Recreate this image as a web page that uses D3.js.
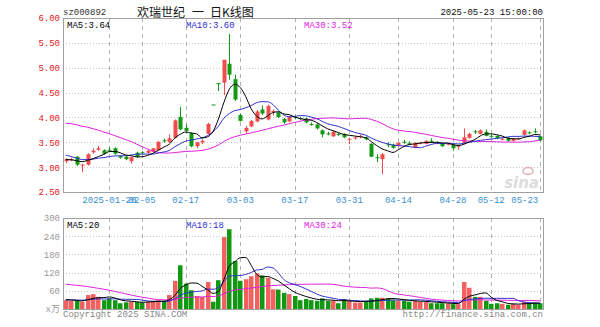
<!DOCTYPE html>
<html><head><meta charset="utf-8">
<script src="https://cdn.jsdelivr.net/npm/d3@7"></script>
<style>
body{margin:0;background:#fff}
svg{display:block}
text{font-family:"Liberation Mono","DejaVu Sans Mono",monospace;font-size:9px}
</style>
</head><body><svg id="c" width="600" height="327"></svg>
<script>
const dates = ["01-08","01-09","01-10","01-13","01-14","01-15","01-16","01-17","01-20","01-21","01-22","01-23","01-24","01-27",
"02-05","02-06","02-07","02-10","02-11","02-12","02-13","02-14","02-17","02-18","02-19","02-20","02-21","02-24","02-25","02-26","02-27","02-28",
"03-03","03-04","03-05","03-06","03-07","03-10","03-11","03-12","03-13","03-14","03-17","03-18","03-19","03-20","03-21","03-24","03-25","03-26","03-27","03-28","03-31",
"04-01","04-02","04-03","04-07","04-08","04-09","04-10","04-11","04-14","04-15","04-16","04-17","04-18","04-21","04-22","04-23","04-24","04-25","04-28","04-29","04-30",
"05-06","05-07","05-08","05-09","05-12","05-13","05-14","05-15","05-16","05-19","05-20","05-21","05-22","05-23"];

const open  = [3.12,3.15,3.21,3.03,3.05,3.30,3.35,3.34,3.35,3.38,3.22,3.21,3.12,3.29,3.30,3.29,3.31,3.34,3.54,3.51,3.59,4.01,3.79,3.68,3.42,3.50,3.67,4.26,4.69,4.70,
               5.08,4.77,4.05,3.72,3.82,3.92,4.16,3.96,4.11,4.10,3.97,3.92,4.01,3.99,3.98,3.87,3.86,3.74,3.68,3.62,3.67,3.67,3.55,3.58,3.62,3.60,3.47,3.20,3.16,
               3.46,3.45,3.43,3.51,3.48,3.39,3.48,3.47,3.53,3.50,3.47,3.46,3.45,3.41,3.49,3.59,3.72,3.67,3.71,3.63,3.63,3.56,3.59,3.53,3.57,3.65,3.70,3.72,3.62];
const high  = [3.18,3.19,3.22,3.07,3.28,3.38,3.43,3.36,3.40,3.40,3.24,3.22,3.21,3.31,3.32,3.35,3.39,3.52,3.57,3.66,3.96,4.21,3.86,3.70,3.51,3.56,3.89,4.26,4.69,5.16,
               5.68,4.86,4.08,3.83,3.95,4.15,4.24,4.26,4.16,4.12,3.99,4.03,4.04,4.01,4.00,3.90,3.88,3.76,3.71,3.73,3.69,3.68,3.59,3.62,3.66,3.62,3.48,3.26,3.28,
               3.50,3.47,3.50,3.55,3.52,3.50,3.51,3.54,3.58,3.52,3.48,3.48,3.46,3.45,3.78,3.69,3.75,3.76,3.76,3.66,3.64,3.59,3.60,3.58,3.60,3.76,3.72,3.78,3.64];
const low   = [3.08,3.12,3.02,2.90,3.03,3.27,3.33,3.25,3.30,3.25,3.17,3.14,3.07,3.19,3.26,3.27,3.30,3.33,3.49,3.49,3.58,3.74,3.70,3.40,3.38,3.46,3.66,4.26,4.53,4.45,
               4.76,4.33,3.92,3.68,3.80,3.90,4.05,3.94,4.04,3.99,3.87,3.90,3.96,3.95,3.88,3.83,3.76,3.60,3.64,3.61,3.63,3.58,3.46,3.55,3.58,3.54,3.20,3.10,2.86,
               3.40,3.37,3.41,3.47,3.44,3.38,3.46,3.46,3.49,3.46,3.41,3.44,3.33,3.35,3.47,3.57,3.67,3.66,3.62,3.59,3.56,3.54,3.51,3.52,3.55,3.64,3.66,3.68,3.52];
const close = [3.16,3.16,3.05,3.05,3.26,3.33,3.38,3.27,3.33,3.27,3.19,3.16,3.20,3.21,3.28,3.33,3.38,3.51,3.52,3.58,3.94,3.76,3.73,3.42,3.50,3.53,3.87,4.26,4.69,5.16,
               4.86,4.36,3.93,3.79,3.93,4.12,4.08,4.23,4.13,4.01,3.90,4.01,3.99,3.97,3.90,3.85,3.78,3.66,3.67,3.71,3.65,3.60,3.57,3.60,3.63,3.56,3.21,3.18,3.26,
               3.44,3.39,3.49,3.50,3.46,3.49,3.49,3.53,3.51,3.48,3.42,3.47,3.38,3.43,3.60,3.67,3.70,3.74,3.63,3.61,3.58,3.57,3.53,3.57,3.58,3.74,3.69,3.70,3.54];
const volume = [29,27,27,24,46,49,40,29,35,29,19,22,24,24,21,24,27,29,27,46,93,144,84,62,43,40,89,24,95,237,
                263,158,93,98,108,117,111,103,65,64,53,49,43,29,33,29,27,35,27,27,19,33,27,21,21,24,35,37,37,
                35,29,27,27,24,27,24,24,19,19,19,19,16,16,89,70,40,40,27,17,19,17,14,17,14,24,21,21,19];
// closes and volumes of the 29 sessions before the window (feed the moving averages at the left edge)
const prevCloses = [3.46,3.65,3.95,3.86,4.23,4.28,4.47,4.23,4.47,4.39,4.36,4.40,4.71,4.78,4.83,4.58,4.41,3.82,3.58,3.64,
                    3.42,3.38,3.33,3.28,3.23,3.18,3.15,3.14,3.13];
const prevVolumes = [87,87,84,106,139,130,119,125,149,139,142,144,144,111,114,117,89,57,
                     36,34,32,30,33,29,31,30,35,32,26];

const priceTicks = [6.00,5.50,5.00,4.50,4.00,3.50,3.00,2.50];
const volumeTicks = [0,60,120,180,240,300];
const dateTicks = ["01-20","02-05","02-17","03-03","03-17","03-31","04-14","04-28","05-12","05-23"];
const dateTickLabels = ["2025-01-20","02-05","02-17","03-03","03-17","03-31","04-14","04-28","05-12","05-23"];
const maPeriods = [5,10,30];
const priceMALabels = ["3.64","3.60","3.52"];
const volumeMALabels = ["20","18","24"];
const maColors = ["#000000","#3030d0","#e020e0"];

const svg = d3.select("#c");
const L = 63, R = 543, T1 = 18, B1 = 192, T2 = 218, B2 = 309;
const x = d3.scaleBand().domain(dates).range([L, R]);
const bw = x.bandwidth();
const cx = d => x(d) + bw / 2;
const y = d3.scaleLinear().domain([2.5, 6]).range([B1, T1]);
const yv = d3.scaleLinear().domain([0, 300]).range([B2, T2]);

function movingAvg(series, prev, n) {
  const all = prev.concat(series), off = prev.length;
  return series.map((_, i) => d3.mean(all.slice(off + i - n + 1, off + i + 1)));
}

const RED = "#f04c4c", GREEN = "#129a12", VRED = "#f26060", VGREEN = "#109910";

// header
svg.append("text").attr("x", 63).attr("y", 15).attr("fill", "#333").text("sz000892");
const cjk = "'Noto Sans CJK SC',sans-serif";
const title = svg.append("text").attr("y", 16.5).style("font-family", cjk).style("font-size", "12px").attr("fill", "#111");
title.append("tspan").attr("x", 137).text("欢瑞世纪");
title.append("tspan").attr("x", 192).text("一");
title.append("tspan").attr("x", 210).text("日K线图");
svg.append("text").attr("x", 543).attr("y", 15).attr("text-anchor", "end").attr("fill", "#111").text("2025-05-23 15:00:00");

// gridlines
function hgrid(scale, vals, top, bottom) {
  svg.append("g").selectAll("line").data(vals.filter(v => scale(v) > top + 1 && scale(v) < bottom - 1)).join("line")
    .attr("x1", L).attr("x2", R).attr("y1", v => Math.round(scale(v)) + 0.5).attr("y2", v => Math.round(scale(v)) + 0.5)
    .attr("stroke", "#c8c8c8").attr("stroke-dasharray", "1,2");
}
hgrid(y, priceTicks, T1, B1);
hgrid(yv, volumeTicks, T2, B2);
[[T1, B1], [T2, B2]].forEach(([t, b]) => {
  svg.append("g").selectAll("line").data(dateTicks).join("line")
    .attr("x1", d => Math.round(cx(d)) + 0.5).attr("x2", d => Math.round(cx(d)) + 0.5)
    .attr("y1", t).attr("y2", b).attr("stroke", "#b0b0b0").attr("stroke-dasharray", "4,4");
});

// watermark
svg.append("text").attr("x", 539).attr("y", 188).attr("text-anchor", "end")
  .style("font-family", "'DejaVu Sans',sans-serif").style("font-size", "15px").style("font-style", "italic").style("font-weight", "bold")
  .attr("fill", "#dcdcdc").text("sina");
svg.append("ellipse").attr("cx", 528).attr("cy", 171).attr("rx", 5).attr("ry", 3.5)
  .attr("fill", "none").attr("stroke", "#e0b0b0").attr("stroke-width", 1.5);

// candles
const cg = svg.append("g");
dates.forEach((d, i) => {
  const up = close[i] > open[i];
  const col = up ? RED : GREEN;
  const xc = Math.round(cx(d)) + 0.5;
  cg.append("line").attr("x1", xc).attr("x2", xc).attr("y1", y(high[i])).attr("y2", y(low[i])).attr("stroke", col);
  const yt = y(Math.max(open[i], close[i])), yb = y(Math.min(open[i], close[i]));
  cg.append("rect").attr("x", xc - 2).attr("width", 4).attr("y", yt).attr("height", Math.max(1, yb - yt)).attr("fill", col);
});

// MA lines
svg.append("clipPath").attr("id", "cp1").append("rect").attr("x", L).attr("y", T1).attr("width", R - L).attr("height", B1 - T1);
svg.append("clipPath").attr("id", "cp2").append("rect").attr("x", L).attr("y", T2).attr("width", R - L).attr("height", B2 - T2);
const mag = svg.append("g").attr("clip-path", "url(#cp1)");
maPeriods.slice().reverse().forEach((n, k) => {
  const idx = maPeriods.length - 1 - k;
  const m = movingAvg(close, prevCloses, n);
  mag.append("path").datum(m).attr("fill", "none").attr("stroke", maColors[idx]).attr("stroke-width", 1)
    .attr("d", d3.line().x((v, i) => cx(dates[i])).y(v => y(v)).curve(d3.curveMonotoneX));
});

// volume bars
const vg = svg.append("g");
dates.forEach((d, i) => {
  const up = close[i] > open[i];
  const xc = Math.round(cx(d));
  vg.append("rect").attr("x", xc - 2).attr("width", 4.5).attr("y", yv(volume[i])).attr("height", B2 - yv(volume[i]))
    .attr("fill", up ? VRED : VGREEN);
});
const mvg = svg.append("g").attr("clip-path", "url(#cp2)");
maPeriods.slice().reverse().forEach((n, k) => {
  const idx = maPeriods.length - 1 - k;
  const m = movingAvg(volume, prevVolumes, n);
  mvg.append("path").datum(m).attr("fill", "none").attr("stroke", maColors[idx]).attr("stroke-width", 1)
    .attr("d", d3.line().x((v, i) => cx(dates[i])).y(v => yv(v)).curve(d3.curveMonotoneX));
});

// borders
[[T1, B1], [T2, B2]].forEach(([t, b]) => {
  svg.append("rect").attr("x", L + 0.5).attr("y", t + 0.5).attr("width", R - L).attr("height", b - t)
    .attr("fill", "none").attr("stroke", "#a0a0a0");
});

// axes
const ay = svg.append("g").attr("transform", `translate(${L},0)`)
  .call(d3.axisLeft(y).tickValues(priceTicks).tickFormat(d3.format(".2f")).tickSize(0).tickPadding(3));
ay.select(".domain").remove();
ay.selectAll("text").attr("fill", "#e01818").style("font-size", "9px").style("font-family", "'Liberation Mono',monospace");

const av = svg.append("g").attr("transform", `translate(${L},0)`)
  .call(d3.axisLeft(yv).tickValues(volumeTicks).tickFormat(d => d === 0 ? "x万" : d).tickSize(0).tickPadding(3));
av.select(".domain").remove();
av.selectAll("text").attr("fill", "#999").style("font-size", "9px").style("font-family", "'Liberation Mono','Noto Sans CJK SC',monospace");

const ax = svg.append("g").attr("transform", `translate(0,${B1})`)
  .call(d3.axisBottom(x).tickValues(dateTicks).tickFormat(d => dateTickLabels[dateTicks.indexOf(d)]).tickSize(0).tickPadding(5));
ax.select(".domain").remove();
ax.selectAll("text").attr("fill", "#3a8fd0").style("font-size", "9px").style("font-family", "'Liberation Mono',monospace");
ax.selectAll(".tick").filter(d => d === dateTicks[dateTicks.length - 1]).select("text").attr("text-anchor", "end").attr("x", -2);

// legends
function legend(yb, vals) {
  const xs = [67, 186, 304];
  maPeriods.forEach((n, k) => {
    svg.append("text").attr("x", xs[k]).attr("y", yb).attr("fill", maColors[k]).text(`MA${n}:${vals[k]}`);
  });
}
legend(27.5, priceMALabels);
legend(227.5, volumeMALabels);

// footer
svg.append("text").attr("x", 63).attr("y", 317).attr("fill", "#888").text("Copyright 2025 SINA.COM");
svg.append("text").attr("x", 543).attr("y", 317).attr("text-anchor", "end").attr("fill", "#888").text("http://finance.sina.com.cn");
</script>
</body></html>
